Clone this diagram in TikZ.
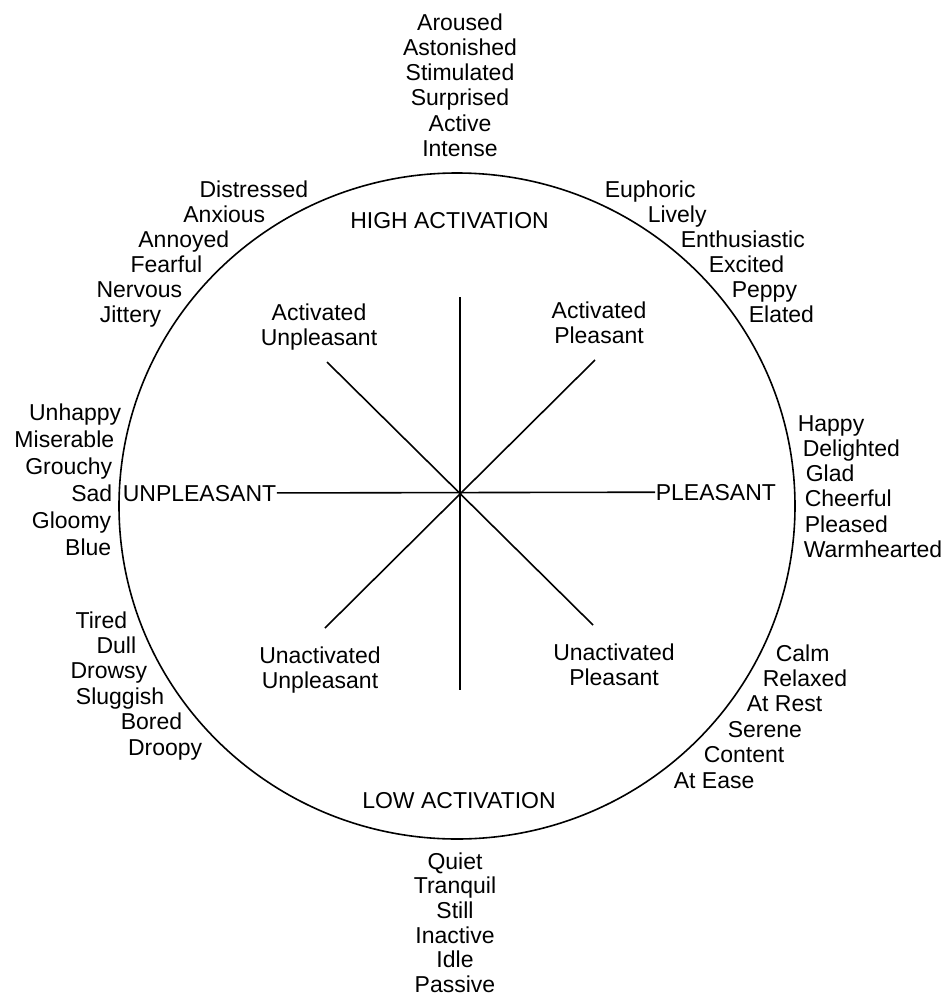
\documentclass[tikz,border=0pt]{standalone}
\usepackage{fontspec}
\setmainfont{Liberation Sans}

\begin{document}
\begin{tikzpicture}[x=0.5pt,y=-0.5pt,line width=0.8pt,
    lbl/.style={inner sep=0pt,font=\fontsize{11.5}{12.6}\selectfont},
    lft/.style={lbl,anchor=base east},
    rgt/.style={lbl,anchor=base west},
    mid/.style={lbl,anchor=base},
    quad/.style={lbl,align=center,anchor=north}]
	\useasboundingbox (0,0) rectangle (949,996);

	\draw (457,506) ellipse [x radius=338, y radius=333];

	% axes
	\node[mid] (high) at (449.5,228) {HIGH ACTIVATION};
	\node[mid] (low) at (459,808) {LOW ACTIVATION};
	\node[rgt] (unpl) at (122,501) {UNPLEASANT};
	\node[rgt] (pl) at (655,500) {PLEASANT};

	\node[quad] (au) at (319,303) {Activated\\Unpleasant};
	\node[quad] (ap) at (599,301) {Activated\\Pleasant};
	\node[quad] (uu) at (320,646) {Unactivated\\Unpleasant};
	\node[quad] (up) at (614,643) {Unactivated\\Pleasant};

	\coordinate (o) at (460,493);
	\coordinate (n) at (460,297);
	\coordinate (s) at (460,690);
	\coordinate (ne) at (595,360);
	\coordinate (sw) at (325,628);
	\coordinate (nw) at (327,362);
	\coordinate (se) at (593,625);
	\draw (unpl) -- (pl);
	\draw (n) -- (s);
	\draw (ne) -- (sw);
	\draw (nw) -- (se);

	% words round the circle
	\foreach \w [count=\i] in {Aroused,Astonished,Stimulated,Surprised,Active,Intense}
		\node[mid] (top\i) at (460,{5+25.2*\i}) {\w};
	\foreach \w [count=\i] in {Quiet,Tranquil,Still,Inactive,Idle,Passive}
		\node[mid] (bot\i) at (455,{844.6+24.6*\i}) {\w};

	\foreach \w/\x [count=\i] in {Distressed/309,Anxious/266,Annoyed/230,Fearful/203,Nervous/183,Jittery/162}
		\node[lft] (ul\i) at (\x,{172+25*\i}) {\w};
	\foreach \w/\x [count=\i] in {Euphoric/604,Lively/647,Enthusiastic/680,Excited/708,Peppy/731,Elated/748}
		\node[rgt] (ur\i) at (\x,{172+25*\i}) {\w};

	\foreach \w/\x [count=\i] in {Unhappy/122,Miserable/115,Grouchy/113,Sad/113,Gloomy/112,Blue/112}
		\node[lft] (ml\i) at (\x,{393+27*\i}) {\w};
	\foreach \w/\x [count=\i] in {Happy/797,Delighted/802,Glad/805,Cheerful/804,Pleased/804,Warmhearted/803}
		\node[rgt] (mr\i) at (\x,{406+25.2*\i}) {\w};

	\foreach \w/\x [count=\i] in {Tired/128,Dull/137,Drowsy/148,Sluggish/165,Bored/183,Droopy/203}
		\node[lft] (ll\i) at (\x,{602.6+25.4*\i}) {\w};
	\foreach \w/\x [count=\i] in {Calm/775,Relaxed/762,At Rest/746,Serene/727,Content/703,At Ease/673}
		\node[rgt] (lr\i) at (\x,{635.6+25.4*\i}) {\w};
\end{tikzpicture}
\end{document}
